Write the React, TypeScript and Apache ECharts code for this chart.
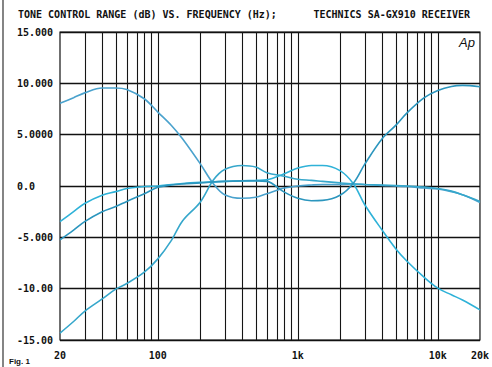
import React, { useEffect, useRef } from "react";
import * as echarts from "echarts";

// Frequencies (Hz) at which the curves were read
const freqs = [20, 25, 30, 40, 50, 60, 80, 100, 125, 150, 200, 250, 300, 400, 500, 600, 800, 1000, 1250, 1500, 2000, 2500, 3000, 4000, 5000, 6000, 8000, 10000, 12500, 15000, 20000];

// Tone control responses (dB)
const bassBoost = [8.05, 8.6, 9.07, 9.55, 9.55, 9.4, 8.5, 7.2, 5.9, 4.6, 2.2, 0.2, -0.85, -1.2, -1.1, -0.75, -0.2, 0.0, 0.1, 0.15, 0.15, 0.2, 0.15, 0.05, 0.0, -0.05, -0.2, -0.3, -0.55, -0.85, -1.6];
const bassCut = [-14.33, -13.2, -12.2, -11.0, -10.05, -9.5, -8.4, -7.1, -5.3, -3.4, -1.6, 0.6, 1.6, 2.0, 1.85, 1.3, 0.95, 0.65, 0.55, 0.45, 0.3, 0.2, 0.15, 0.1, 0.05, 0.0, -0.1, -0.25, -0.5, -0.85, -1.5];
const trebleCut = [-3.47, -2.5, -1.7, -0.9, -0.55, -0.25, -0.05, 0.0, 0.15, 0.25, 0.35, 0.4, 0.45, 0.5, 0.55, 0.6, 1.2, 1.75, 2.0, 2.0, 1.5, 0.2, -1.8, -4.3, -6.1, -7.3, -8.9, -9.95, -10.6, -11.1, -12.06];
const trebleBoost = [-5.25, -4.3, -3.47, -2.5, -2.0, -1.5, -0.75, -0.13, 0.1, 0.2, 0.3, 0.4, 0.45, 0.5, 0.5, 0.45, -0.6, -1.2, -1.43, -1.4, -0.9, 0.3, 2.1, 4.6, 5.9, 7.1, 8.6, 9.3, 9.7, 9.8, 9.66];

// Vertical grid frequencies
const gridFreqs = [30, 40, 50, 60, 70, 80, 90, 100, 200, 300, 400, 500, 600, 700, 800, 900, 1000, 2000, 3000, 4000, 5000, 6000, 7000, 8000, 9000, 10000];

// Tick labels
const xTickFreqs = [20, 100, 1000, 10000, 20000];
const xTickLabels = ["20", "100", "1k", "10k", "20k"];
const yTickValues = [15, 10, 5, 0, -5, -10, -15];
const yTickLabels = ["15.000", "10.000", "5.0000", "0.0", "-5.000", "-10.00", "-15.00"];

const titleLeft = "TONE CONTROL RANGE (dB) VS. FREQUENCY (Hz);";
const titleRight = "TECHNICS SA-GX910 RECEIVER";
const caption = "Fig. 1";

const lg = (f: number) => Math.log10(f);
const FONT = "'DejaVu Sans Mono', monospace";

export default function App() {
  const ref = useRef<HTMLDivElement>(null);
  useEffect(() => {
    if (!ref.current) return;
    const chart = echarts.init(ref.current, undefined, { renderer: "svg" });
    const mk = (vals: number[]) => freqs.map((f, i) => [lg(f), vals[i]]);
    const lineSeries = (name: string, vals: number[], color: string) => ({
      name,
      type: "line",
      data: mk(vals),
      smooth: 0.35,
      showSymbol: false,
      symbol: "none",
      lineStyle: { color, width: 1.6 },
      z: 5,
    });
    const xLabelMap: Record<string, string> = {};
    xTickFreqs.forEach((f, i) => (xLabelMap[lg(f).toFixed(6)] = xTickLabels[i]));
    const yLabelMap: Record<string, string> = {};
    yTickValues.forEach((v, i) => (yLabelMap[String(v)] = yTickLabels[i]));

    chart.setOption({
      animation: false,
      backgroundColor: "#ffffff",
      grid: {
        left: 60,
        right: 12,
        top: 32,
        bottom: 27,
        show: true,
        borderColor: "#111",
        borderWidth: 1.2,
        backgroundColor: "transparent",
      },
      xAxis: {
        type: "value",
        min: lg(20),
        max: lg(20000),
        axisLine: { show: false },
        axisTick: { show: false },
        splitLine: { show: false },
        axisLabel: {
          customValues: xTickFreqs.map(lg),
          formatter: (v: number) => xLabelMap[v.toFixed(6)] ?? "",
          margin: 10,
          color: "#111",
          fontFamily: FONT,
          fontWeight: "bold",
          fontSize: 10,
          showMinLabel: true,
          showMaxLabel: true,
        },
      },
      yAxis: {
        type: "value",
        min: -15,
        max: 15,
        interval: 5,
        axisLine: { show: false },
        axisTick: { show: false },
        splitLine: { show: true, lineStyle: { color: "#111", width: 1.3 } },
        axisLabel: {
          formatter: (v: number) => yLabelMap[String(v)] ?? "",
          align: "left",
          margin: 43,
          color: "#111",
          fontFamily: FONT,
          fontWeight: "bold",
          fontSize: 10,
        },
      },
      series: [
        {
          type: "line",
          data: [],
          silent: true,
          markLine: {
            silent: true,
            symbol: "none",
            label: { show: false },
            lineStyle: { color: "#151515", width: 1.1, type: "solid" },
            data: gridFreqs.map((f) => ({ xAxis: lg(f) })),
          },
          z: 2,
        },
        lineSeries("Bass boost", bassBoost, "#4aa2cd"),
        lineSeries("Bass cut", bassCut, "#36a7cb"),
        lineSeries("Treble cut", trebleCut, "#2fb2d8"),
        lineSeries("Treble boost", trebleBoost, "#2c96be"),
      ],
      graphic: [
        {
          type: "text",
          left: 18,
          top: 9,
          style: { text: titleLeft, fontFamily: FONT, fontWeight: "bold", fontSize: 10, fill: "#111" },
        },
        {
          type: "text",
          right: 22,
          top: 9,
          style: { text: titleRight, fontFamily: FONT, fontWeight: "bold", fontSize: 10, fill: "#111" },
        },
        {
          type: "text",
          left: 459,
          top: 36,
          style: { text: "Ap", fontFamily: "'Liberation Sans', Arial, sans-serif", fontStyle: "italic", fontSize: 13, fill: "#111" },
        },
        {
          type: "line",
          shape: { x1: 3, y1: 0, x2: 3, y2: 367 },
          style: { stroke: "#333", lineWidth: 1.2 },
        },
        {
          type: "text",
          left: 9,
          top: 357,
          style: { text: caption, fontFamily: "'Liberation Sans', Arial, sans-serif", fontWeight: "bold", fontSize: 8, fill: "#111" },
        },
      ],
    });
    return () => chart.dispose();
  }, []);
  return (
    <div
      ref={ref}
      style={{ position: "fixed", left: 0, top: 0, width: 492, height: 367, background: "#fff" }}
    />
  );
}
